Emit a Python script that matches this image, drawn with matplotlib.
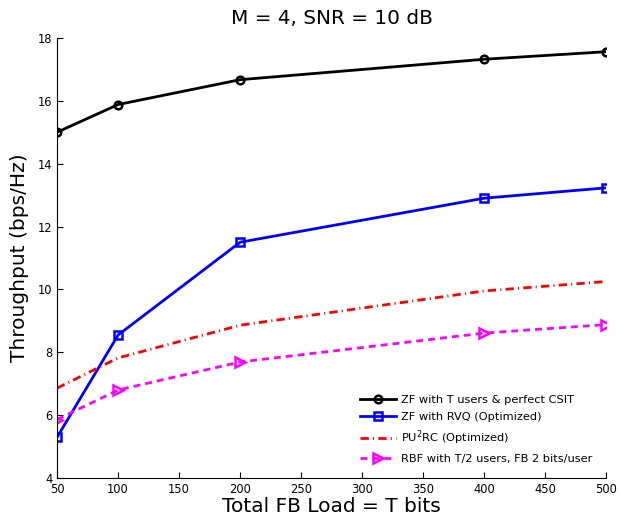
import matplotlib
matplotlib.use('Agg')
from matplotlib import pyplot as plt

fb_load = [50, 100, 200, 400, 500]
zf_perfect = [15.0, 15.88, 16.67, 17.32, 17.56]
zf_rvq = [5.3, 8.55, 11.5, 12.9, 13.23]
pu2rc = [6.86, 7.82, 8.86, 9.95, 10.25]
rbf = [5.86, 6.8, 7.69, 8.61, 8.88]

fig = plt.figure(figsize=(6.21, 5.19), dpi=100)
ax = fig.add_axes([0.092, 0.079, 0.884, 0.848])

ax.plot(fb_load, zf_perfect, 'k-o', lw=2, ms=5.5, mfc='none', mew=1.8,
        label='ZF with T users & perfect CSIT')
ax.plot(fb_load, zf_rvq, 'b-s', lw=2, ms=5.5, mfc='none', mew=1.8,
        label='ZF with RVQ (Optimized)')
ax.plot(fb_load, pu2rc, color='red', lw=2, dashes=(3, 1.5, 0.4, 1.5),
        label='PU$^2$RC (Optimized)')
ax.plot(fb_load, rbf, color='magenta', marker='>', lw=2, ms=7.5,
        dashes=(2.5, 1.8), mfc='none', mew=1.8,
        label='RBF with T/2 users, FB 2 bits/user')

ax.set_xlim(50, 500)
ax.set_ylim(4, 18)
ax.set_xticks(range(50, 501, 50))
ax.set_yticks(range(4, 19, 2))
ax.tick_params(direction='in', labelsize=8.3, length=4)
ax.spines['top'].set_visible(False)
ax.spines['right'].set_visible(False)

ax.set_title('M = 4, SNR = 10 dB', fontsize=14.4, pad=10)
ax.set_xlabel('Total FB Load = T bits', fontsize=14.5, labelpad=1)
ax.set_ylabel('Throughput (bps/Hz)', fontsize=14.5, labelpad=6)

ax.legend(loc='lower right', frameon=False, fontsize=8.2, handlelength=3.2,
          handletextpad=0.4, borderaxespad=0.8, labelspacing=0.6)

fig.savefig('out.png', dpi=100)
